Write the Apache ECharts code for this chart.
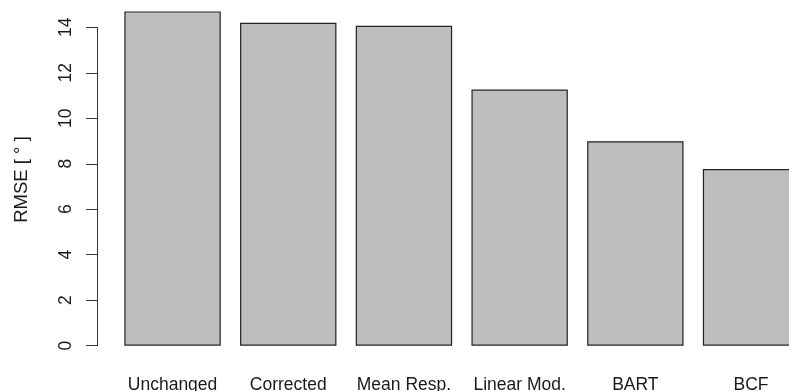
<!DOCTYPE html>
<html>
<head>
<meta charset="utf-8">
<script src="https://cdn.jsdelivr.net/npm/echarts@6/dist/echarts.min.js"></script>
<style>
  html, body { margin: 0; padding: 0; background: #fff; }
  #chart { width: 789px; height: 391px; }
</style>
</head>
<body>
<div id="chart"></div>
<script>
// Method names shown along the x axis
const methods = ['Unchanged', 'Corrected', 'Mean Resp.', 'Linear Mod.', 'BART', 'BCF'];
// Root mean squared error per method, in degrees
const rmse = [14.70, 14.20, 14.07, 11.26, 8.99, 7.77];
// Y axis range and tick step
const yMin = 0;
const yMax = 14;
const yStep = 2;

const font = 'Liberation Sans, Arial, sans-serif';
const chart = echarts.init(document.getElementById('chart'), null, { renderer: 'canvas' });

chart.setOption({
  animation: false,
  backgroundColor: '#ffffff',
  // plot area runs past the right edge, so the last bar is cut off
  grid: {
    left: 114.7, width: 694.2, top: 27.3, height: 318.4,
    containLabel: false, outerBoundsMode: 'none'
  },
  xAxis: {
    type: 'category',
    data: methods,
    axisLine: { show: false },
    axisTick: { show: false },
    axisLabel: { color: '#1a1a1a', fontFamily: font, fontSize: 17.5, margin: 30, interval: 0 }
  },
  yAxis: {
    type: 'value',
    min: yMin,
    max: yMax,
    interval: yStep,
    offset: 17.7,
    name: 'RMSE [ \u00b0 ]',
    nameLocation: 'middle',
    nameRotate: 90,
    nameGap: 66,
    nameTextStyle: { color: '#1a1a1a', fontFamily: font, fontSize: 18.5, padding: [0, 0, 0, 14] },
    splitLine: { show: false },
    axisLine: { show: true, lineStyle: { color: '#333', width: 1 } },
    axisTick: { show: true, length: 11, lineStyle: { color: '#333', width: 1 } },
    axisLabel: { color: '#1a1a1a', fontFamily: font, fontSize: 17.5, rotate: 90, margin: 22 }
  },
  series: [{
    type: 'bar',
    data: rmse,
    clip: false,
    barCategoryGap: '16.7%',
    itemStyle: { color: '#bebebe', borderColor: '#222', borderWidth: 1.2 }
  }]
});
</script>
</body>
</html>
